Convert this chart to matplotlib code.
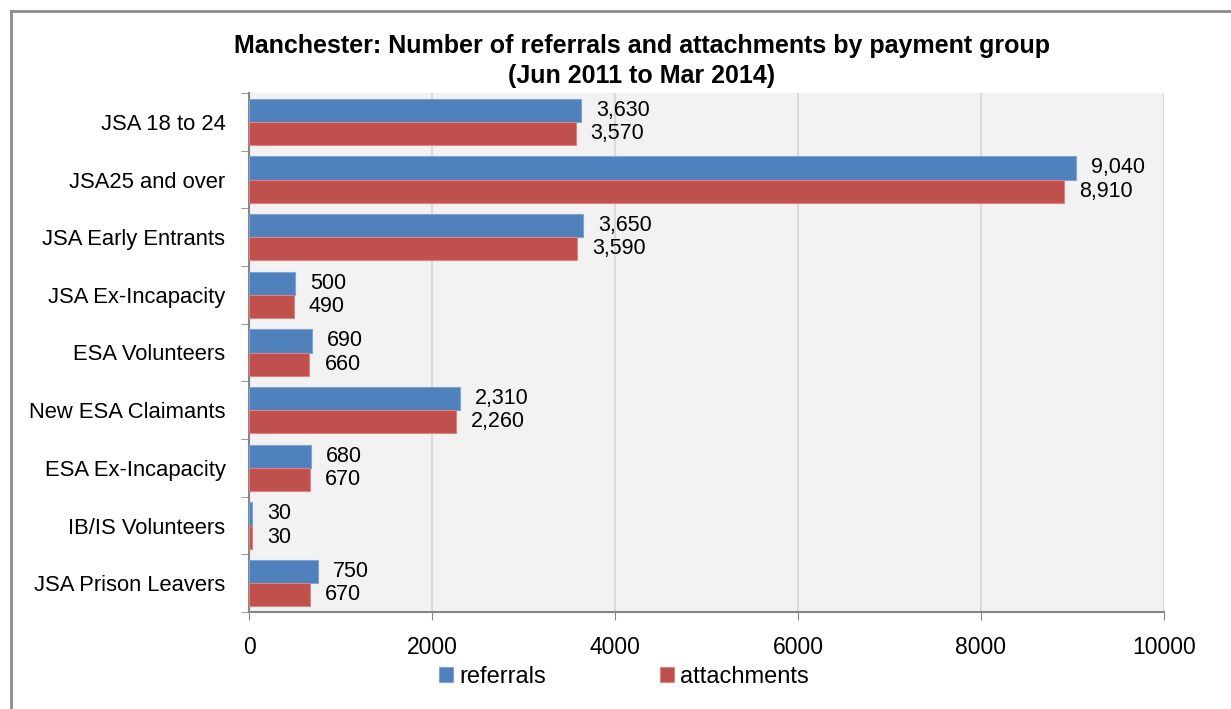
import matplotlib.pyplot as plt
import numpy as np
from matplotlib.lines import Line2D

plt.rcParams['font.family'] = ['Liberation Sans', 'DejaVu Sans']

groups = ["JSA 18 to 24", "JSA25 and over", "JSA Early Entrants",
          "JSA Ex-Incapacity", "ESA Volunteers", "New ESA Claimants",
          "ESA Ex-Incapacity", "IB/IS Volunteers", "JSA Prison Leavers"]
referrals = [3630, 9040, 3650, 500, 690, 2310, 680, 30, 750]
attachments = [3570, 8910, 3590, 490, 660, 2260, 670, 30, 670]
x_ticks = [0, 2000, 4000, 6000, 8000, 10000]

blue = "#4F81BD"
red = "#C0504D"
axis_grey = "#868686"

fig = plt.figure(figsize=(12.31, 7.09), dpi=100)
ax = fig.add_axes([249 / 1231, 1 - 612 / 709, 915 / 1231, 519 / 709])
ax.set_facecolor("#F2F2F2")

y = np.arange(len(groups))
h = 0.4
b1 = ax.barh(y - h / 2, referrals, height=h, color=blue, edgecolor="#7FA3D3",
             linewidth=0.8, label="referrals", zorder=3)
b2 = ax.barh(y + h / 2, attachments, height=h, color=red, edgecolor="#D98584",
             linewidth=0.8, label="attachments", zorder=3)

# value labels just past the end of each bar
for bars, vals in ((b1, referrals), (b2, attachments)):
    for bar, v in zip(bars, vals):
        ax.annotate(f"{v:,}", (v, bar.get_y() + bar.get_height() / 2),
                    xytext=(15, 0), textcoords="offset pixels",
                    va="center", ha="left", fontsize=15.5)

ax.set_xlim(0, 10000)
ax.set_ylim(len(groups) - 0.5, -0.5)
ax.set_xticks(x_ticks)
ax.set_xticklabels([str(t) for t in x_ticks], fontsize=16.5)
ax.set_yticks(y)
ax.set_yticklabels(groups, fontsize=15.8)
ax.tick_params(axis="y", length=0, pad=17)
ax.tick_params(axis="x", length=6, color=axis_grey, pad=11)
ax.set_yticks(np.arange(len(groups) + 1) - 0.5, minor=True)
ax.tick_params(axis="y", which="minor", length=6, color=axis_grey)

ax.grid(axis="x", color="#D9D9D9", linewidth=1.5, zorder=0)
for side in ("top", "right"):
    ax.spines[side].set_visible(False)
for side in ("left", "bottom"):
    ax.spines[side].set_color(axis_grey)
    ax.spines[side].set_linewidth(1.5)

fig.text(642 / 1231, 1 - 46 / 709, "Manchester: Number of referrals and attachments by payment group",
         ha="center", va="center", fontsize=18, fontweight="bold")
fig.text(642 / 1231, 1 - 76 / 709, "(Jun 2011 to Mar 2014)",
         ha="center", va="center", fontsize=18, fontweight="bold")

fig.legend(handles=[b1, b2], loc="center", bbox_to_anchor=(624 / 1231, 1 - 677 / 709),
           ncol=2, frameon=False, fontsize=17, handlelength=0.6, handleheight=0.6,
           handletextpad=0.28, columnspacing=4.8)

# outer frame, left and top edges
fig.add_artist(Line2D([11 / 1231, 11 / 1231], [0, 1 - 11 / 709], transform=fig.transFigure,
                      color="#8C8C8C", linewidth=2))
fig.add_artist(Line2D([11 / 1231, 1], [1 - 11 / 709, 1 - 11 / 709], transform=fig.transFigure,
                      color="#8C8C8C", linewidth=2))

fig.savefig("out.png", dpi=100)
